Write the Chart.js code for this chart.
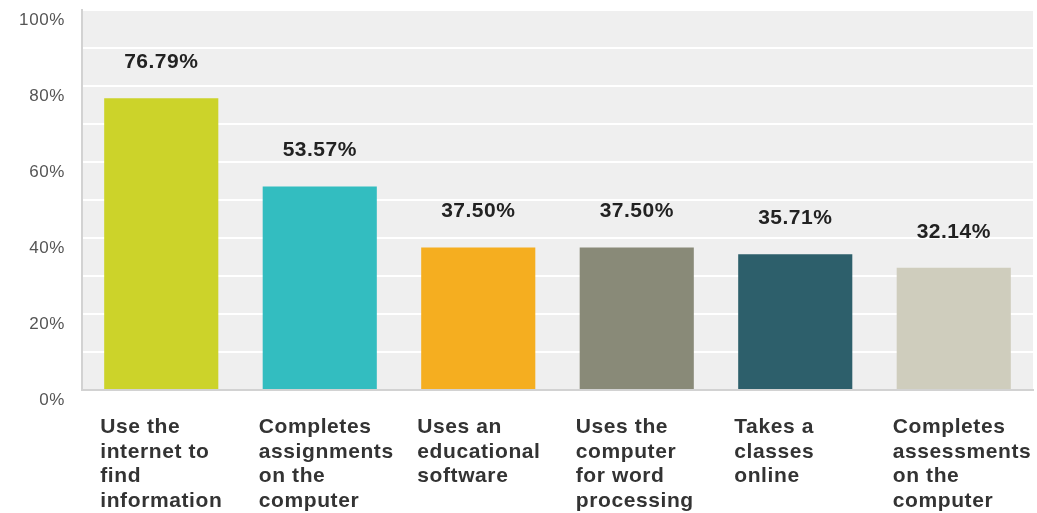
<!DOCTYPE html>
<html lang="en">
<head>
    <meta charset="UTF-8">
    <title>Computer use</title>
    <script src="https://cdn.jsdelivr.net/npm/chart.js"></script>
    <style>
        body { margin: 0; padding: 0; background: #fff; }
        .wrap { width: 1037px; height: 513px; }
    </style>
</head>
<body>
    <div class="wrap"><canvas id="chart"></canvas></div>

    <script>
        // Data
        const categories = [
            ["Use the", "internet to", "find", "information"],
            ["Completes", "assignments", "on the", "computer"],
            ["Uses an", "educational", "software"],
            ["Uses the", "computer", "for word", "processing"],
            ["Takes a", "classes", "online"],
            ["Completes", "assessments", "on the", "computer"]
        ];
        const percents = [76.79, 53.57, 37.50, 37.50, 35.71, 32.14];
        const barColors = ["#ccd32a", "#33bdc0", "#f5ae20", "#898a78", "#2d5f6b", "#cfcdbd"];
        const yTicks = [0, 20, 40, 60, 80, 100];

        const FONT = "'Liberation Sans', Arial, sans-serif";

        // the original text is a bit stretched, so widen it a little
        const spacing = {
            id: "spacing",
            beforeUpdate(chart) { chart.ctx.letterSpacing = "0.6px"; },
            beforeDraw(chart) { chart.ctx.letterSpacing = "0.6px"; }
        };

        // grey plot background
        const plotBg = {
            id: "plotBg",
            beforeDraw(chart) {
                const { ctx, chartArea: a } = chart;
                ctx.save();
                ctx.fillStyle = "#efefef";
                ctx.fillRect(a.left, a.top, a.right - a.left, a.bottom - a.top);
                ctx.restore();
            }
        };

        // percentage labels above the bars
        const valueLabels = {
            id: "valueLabels",
            afterDatasetsDraw(chart) {
                const { ctx } = chart;
                const meta = chart.getDatasetMeta(0);
                ctx.save();
                ctx.font = "bold 21px " + FONT;
                ctx.letterSpacing = "0.5px";
                ctx.fillStyle = "#222";
                ctx.textAlign = "center";
                ctx.textBaseline = "middle";
                meta.data.forEach((bar, i) => {
                    ctx.fillText(percents[i].toFixed(2) + "%", bar.x, bar.y - 36);
                });
                ctx.restore();
            }
        };

        new Chart(document.getElementById("chart"), {
            type: "bar",
            data: {
                labels: categories,
                datasets: [{
                    data: percents,
                    backgroundColor: barColors,
                    barPercentage: 0.72,
                    categoryPercentage: 1
                }]
            },
            options: {
                responsive: true,
                maintainAspectRatio: false,
                animation: false,
                layout: { padding: { top: 10, right: 4, left: 0, bottom: 0 } },
                plugins: { legend: { display: false }, tooltip: { enabled: false } },
                scales: {
                    x: {
                        grid: { display: false, drawTicks: false },
                        border: { color: "#d2d2d2", width: 2 },
                        ticks: {
                            color: "#333",
                            font: { family: FONT, size: 21, weight: "bold", lineHeight: 1.17 },
                            align: "start",
                            labelOffset: -61,
                            padding: 25,
                            maxRotation: 0,
                            autoSkip: false
                        },
                        afterFit(scale) {
                            scale.height = 123;
                            scale.paddingLeft = 0;
                            scale.paddingRight = 0;
                        }
                    },
                    y: {
                        min: 0,
                        max: 100,
                        grid: { color: "#ffffff", lineWidth: 2, drawTicks: false },
                        border: { color: "#d2d2d2", width: 2 },
                        ticks: {
                            stepSize: 10,
                            color: "#555",
                            font: { family: FONT, size: 17 },
                            padding: 17,
                            labelOffset: 10,
                            callback: v => yTicks.includes(v) ? v + "%" : ""
                        },
                        afterFit(scale) {
                            scale.width = 82;
                            scale.paddingTop = 0;
                            scale.paddingBottom = 0;
                        }
                    }
                }
            },
            plugins: [spacing, plotBg, valueLabels]
        });
    </script>
</body>
</html>
